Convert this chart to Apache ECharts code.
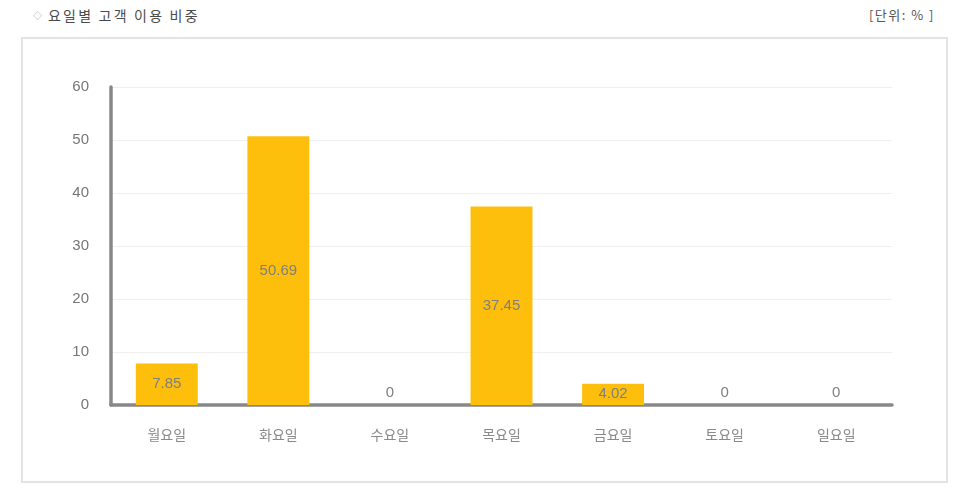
<!DOCTYPE html>
<html>
<head>
<meta charset="utf-8">
<script src="https://cdn.jsdelivr.net/npm/echarts@6/dist/echarts.min.js"></script>
<style>
  html, body { margin: 0; padding: 0; background: #fff; }
  body { width: 966px; height: 489px; position: relative; overflow: hidden;
         font-family: "Noto Sans CJK KR", "Noto Sans", sans-serif; }
  #title { position: absolute; left: 33px; top: 5px; font-size: 14px; color: #4a4a4a;
           letter-spacing: 2.2px; }
  #title .dia { color: #aaa; font-size: 9px; margin-right: 6px; position: relative; top: -2px; letter-spacing: 0; }
  #unit { position: absolute; right: 31px; top: 5px; font-size: 13px; color: #555; letter-spacing: 1.5px; }
  #box { position: absolute; left: 21px; top: 37px; width: 923px; height: 442px;
         border: 2px solid #e3e3e3; }
  #chart { position: absolute; left: 0; top: 0; width: 966px; height: 489px; }
</style>
</head>
<body>
<div id="title"><span class="dia">&#9671;</span>요일별 고객 이용 비중</div>
<div id="unit">[단위: % ]</div>
<div id="box"></div>
<div id="chart"></div>
<script>
var days = ['월요일', '화요일', '수요일', '목요일', '금요일', '토요일', '일요일'];
var shares = [7.85, 50.69, 0, 37.45, 4.02, 0, 0];
var yTicks = { min: 0, max: 60, interval: 10 };

var chart = echarts.init(document.getElementById('chart'));

// 0인 막대는 라벨을 위에 표시
var barData = shares.map(function (v) {
    return {
        value: v,
        label: { position: v === 0 ? 'top' : 'inside' }
    };
});

var option = {
    animation: false,
    grid: { left: 111, right: 74, top: 87, bottom: 84 },
    xAxis: {
        type: 'category',
        data: days,
        axisLine: { lineStyle: { color: '#888', width: 3.5 } },
        axisTick: { show: false },
        axisLabel: { color: '#8a8a8a', fontSize: 14, margin: 23,
                     fontFamily: 'Noto Sans CJK KR' }
    },
    yAxis: {
        type: 'value',
        min: yTicks.min,
        max: yTicks.max,
        interval: yTicks.interval,
        axisLine: { show: true, lineStyle: { color: '#888', width: 3.5 } },
        axisTick: { show: false },
        axisLabel: { color: '#777', fontSize: 15, margin: 22, fontFamily: 'Arial' },
        splitLine: { lineStyle: { color: '#efefef', width: 1 } }
    },
    series: [{
        type: 'bar',
        data: barData,
        barWidth: '55.5%',
        itemStyle: { color: '#fdbe0c' },
        label: { show: true, color: '#808080', fontSize: 15, fontFamily: 'Arial' }
    }]
};
chart.setOption(option);
</script>
</body>
</html>
